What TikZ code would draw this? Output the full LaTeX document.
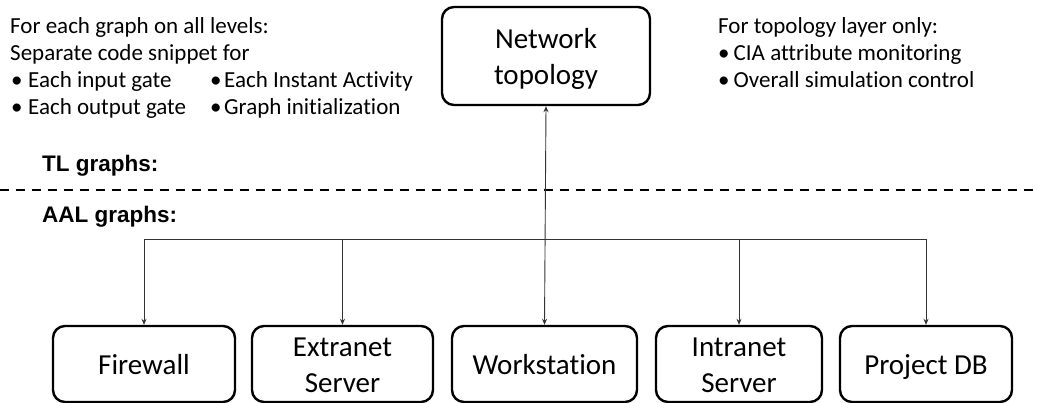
\documentclass[tikz,border=0pt]{standalone}
\usepackage{fontspec}
\setmainfont[Ligatures=NoCommon]{Carlito}
\newfontfamily\headfont{Liberation Sans}
\usetikzlibrary{arrows.meta}
\newcommand{\bul}[2]{\makebox[#1][l]{\textbullet}#2}
\newcommand{\tall}{\rule{0pt}{31pt}}
\newcommand{\firstl}{\rule{0pt}{28pt}}
\newcommand{\lastl}{\rule[-7pt]{0pt}{7pt}}
\begin{document}
\begin{tikzpicture}[x=1pt,y=-1pt,
  box/.style={draw=black, line width=2.4pt, rounded corners=12pt, inner sep=0pt,
              align=center, font=\fontsize{29}{36}\selectfont},
  note/.style={anchor=base west, inner sep=0pt, font=\fontsize{23}{27}\selectfont},
  layer/.style={anchor=base west, inner sep=0pt, font=\headfont\bfseries\fontsize{22.5}{26}\selectfont},
  link/.style={draw=black!80, line width=0.9pt},
  arr/.style={link, -{Stealth[length=6pt,width=5pt]}},
  darr/.style={link, {Stealth[length=6pt,width=5pt]}-{Stealth[length=6pt,width=5pt]}}]
\useasboundingbox (0,0) rectangle (1038,403);

% top-level graph
\node[box, minimum width=208pt, minimum height=98pt] (net) at (546,56) {\tall Network\\\strut topology};

% atomic-level graphs
\node[box, minimum width=182pt, minimum height=76pt] (fw) at (144,364) {\tall Firewall\strut};
\node[box, minimum width=181pt, minimum height=76pt] (ext) at (342.5,364) {\firstl Extranet\\Server\lastl};
\node[box, minimum width=185pt, minimum height=76pt] (ws) at (544.5,364) {\tall Workstation\strut};
\node[box, minimum width=166pt, minimum height=76pt] (intr) at (739,364) {\firstl Intranet\\Server\lastl};
\node[box, minimum width=172pt, minimum height=76pt] (db) at (926,364) {\tall Project DB\strut};

% layer separator
\coordinate (sepL) at (0,190);
\coordinate (sepR) at (1038,190);
\draw[line width=2pt, dash pattern=on 9pt off 7pt] (sepL) -- (sepR);
\node[layer] (tl) at (42,172) {TL graphs:};
\node[layer] (aal) at (42,223) {AAL graphs:};

% connectors
\coordinate (bus) at (0,239);
\draw[link] (fw.north |- bus) -- (db.north |- bus);
\draw[arr] (fw.north |- bus) -- (fw.north);
\draw[arr] (ext.north |- bus) -- (ext.north);
\draw[arr] (intr.north |- bus) -- (intr.north);
\draw[arr] (db.north |- bus) -- (db.north);
\draw[darr] (ws.north) -- (net.south);

% notes
\node[note] (l1) at (10,34) {For each graph on all levels:};
\node[note] (l2) at (10,61) {Separate code snippet for};
\node[note] (l3) at (11,88) {\bul{17pt}{Each input gate}};
\node[note] (l4) at (11,115) {\bul{17pt}{Each output gate}};
\node[note] (l5) at (210,88) {\bul{14pt}{Each Instant Activity}};
\node[note] (l6) at (210,115) {\bul{14pt}{Graph initialization}};

\node[note] (r1) at (718,34) {For topology layer only:};
\node[note] (r2) at (718,61) {\bul{15.5pt}{CIA attribute monitoring}};
\node[note] (r3) at (718,88) {\bul{15.5pt}{Overall simulation control}};
\end{tikzpicture}
\end{document}
